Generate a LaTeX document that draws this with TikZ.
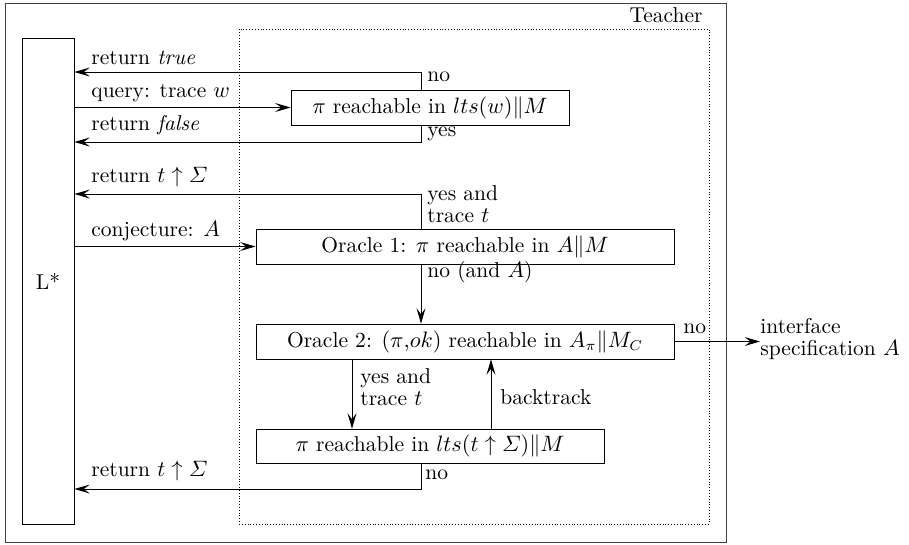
\documentclass[tikz,border=0pt]{standalone}
\usepackage{amsmath}
\usetikzlibrary{arrows.meta}
\begin{document}
\begin{tikzpicture}[x=0.4925pt,y=-0.4925pt,
  font=\fontsize{10.6}{11}\selectfont,
  box/.style={draw,rectangle,inner sep=0pt},
  arr/.style={-{Stealth[length=7.6pt,width=4.4pt,inset=3pt]}},
  lbl/.style={anchor=west,inner sep=0pt,align=left}]
\useasboundingbox (0,0) rectangle (909,544);
% frames
\node[box,draw=black!75,minimum width=355.1pt,minimum height=265.5pt] (outer) at (365.5,272.5) {};
\node[anchor=north east,inner sep=0pt] (teacher) at (703,7) {Teacher};
\node[box,densely dotted,minimum width=231.5pt,minimum height=243.8pt] (teach) at (474,276.5) {};
\node[box,minimum width=25.6pt,minimum height=239.4pt] (Lstar) at (48,281) {L*};
% boxes
\node[box,minimum width=136.9pt,minimum height=17.2pt] (b1) at (430,107.5) {$\pi$ reachable in $lts(w)\|M$};
\node[box,minimum width=205.9pt,minimum height=17.2pt] (o1) at (465,246.5) {Oracle 1: $\pi$ reachable in $A\|M$};
\node[box,minimum width=205.9pt,minimum height=17.2pt] (o2) at (465,341.5) {Oracle 2: $(\pi{,}ok)$ reachable in $A_\pi\|M_C$};
\node[box,minimum width=171.4pt,minimum height=16.7pt] (b3) at (430,446) {$\pi$ reachable in $lts(t\uparrow\varSigma)\|M$};
\node[lbl] (spec) at (760,339) {interface\\specification $A$};
% helper coordinates
\coordinate (cx) at (421,0);
\coordinate (c2) at (352,0);
\coordinate (c3) at (491,0);
\coordinate (r1) at (0,72);
\coordinate (r2) at (0,142);
\coordinate (r3) at (0,194);
\coordinate (r4) at (0,489);
% connectors
\draw[arr] (b1.north -| cx) |- (Lstar.east |- r1);
\draw[arr] (Lstar.east |- b1.west) -- (b1.west);
\draw[arr] (b1.south -| cx) |- (Lstar.east |- r2);
\draw[arr] (o1.north -| cx) |- (Lstar.east |- r3);
\draw[arr] (Lstar.east |- o1.west) -- (o1.west);
\draw[arr] (o1.south -| cx) -- (o2.north -| cx);
\draw[arr] (o2.south -| c2) -- (b3.north -| c2);
\draw[arr] (b3.north -| c3) -- (o2.south -| c3);
\draw[arr] (b3.south -| cx) |- (Lstar.east |- r4);
\draw[arr] (o2.east) -- (o2.east -| spec.west);
% labels
\node[lbl] at (91,58) {return \textit{true}};
\node[lbl] at (427,77) {no};
\node[lbl] at (91,93) {query: trace $w$};
\node[lbl] at (91,125) {return \textit{false}};
\node[lbl] at (427,134) {yes};
\node[lbl] at (91,177) {return $t\uparrow\varSigma$};
\node[lbl] at (427,204) {yes and\\trace $t$};
\node[lbl] at (91,231) {conjecture: $A$};
\node[lbl] at (427,272) {no (and $A$)};
\node[lbl] at (683,329) {no};
\node[lbl] at (360,387) {yes and\\trace $t$};
\node[lbl] at (500,397) {backtrack};
\node[lbl] at (425,475) {no};
\node[lbl] at (91,471) {return $t\uparrow\varSigma$};
\end{tikzpicture}
\end{document}
